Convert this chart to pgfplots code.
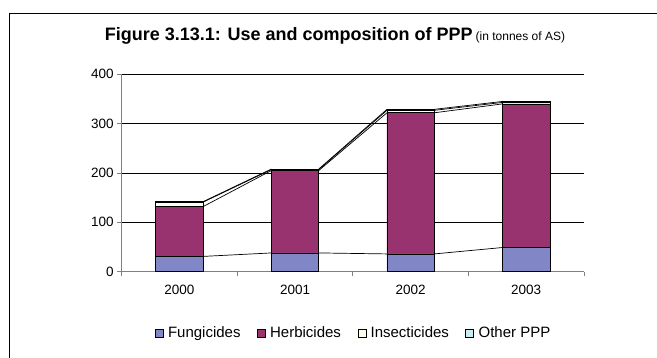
\documentclass[border=0pt]{standalone}
\usepackage{fontspec}
\setmainfont{Liberation Sans}
\usepackage{pgfplots}
\pgfplotsset{compat=1.18}
\definecolor{fung}{RGB}{128,134,198}
\definecolor{herb}{RGB}{153,51,112}
\definecolor{insect}{RGB}{255,255,236}
\definecolor{other}{RGB}{204,236,244}
\definecolor{axgray}{RGB}{128,128,128}
\begin{document}
\begin{tikzpicture}[x=1pt,y=1pt]
\useasboundingbox (0,0) rectangle (657,358);
\draw[black,line width=0.8pt] (9,0) -- (9,345) -- (657,345);
\node[anchor=base] at (335,317.3) {{\fontsize{18}{20}\selectfont\bfseries Figure 3.13.1: Use and composition of PPP}\hspace{3pt}{\fontsize{12}{14}\selectfont (in tonnes of AS)}};
\begin{axis}[
  at={(121.7pt,86.3pt)}, anchor=south west,
  scale only axis, width=462.3pt, height=197.4pt,
  ybar stacked, bar width=0.41,
  xmin=-0.5, xmax=3.5, ymin=0, ymax=400,
  xtick={-0.5,0.5,1.5,2.5,3.5}, x tick label as interval,
  xticklabels={2000,2001,2002,2003},
  ytick={0,100,200,300,400},
  ymajorgrids, grid style={black, line width=0.6pt},
  axis x line*=bottom, axis y line*=left,
  axis line style={axgray, line width=1pt, -},
  tick style={axgray, line width=0.8pt},
  tick align=outside,
  major tick length=4.5pt,
  /pgf/number format/assume math mode=true,
  /pgf/number format/1000 sep={},
  tick label style={font=\fontsize{13.5}{15}\selectfont},
  xticklabel style={yshift=-5pt},
  legend style={at={(0.5,-0.31)}, anchor=center, draw=none, fill=none,
    legend columns=-1, font=\fontsize{15}{17}\selectfont,
    nodes={inner sep=0.5pt},
    /tikz/every odd column/.append style={column sep=4pt},
    /tikz/every even column/.append style={column sep=16pt}},
  legend image code/.code={\draw[#1,draw=black,line width=0.6pt] (0pt,-4pt) rectangle (8pt,4pt);},
  every axis plot/.append style={draw=black, line width=0.7pt},
]
\addplot[fill=fung] coordinates {(0,31) (1,38) (2,36) (3,49)};
\addplot[fill=herb] coordinates {(0,101) (1,167) (2,286) (3,291)};
\addplot[fill=insect] coordinates {(0,9) (1,2) (2,5) (3,3)};
\addplot[fill=other] coordinates {(0,1) (1,1) (2,2) (3,2)};
\legend{Fungicides,Herbicides,Insecticides,Other PPP}
\end{axis}
\begin{axis}[
  at={(121.7pt,86.3pt)}, anchor=south west,
  scale only axis, width=462.3pt, height=197.4pt,
  xmin=-0.5, xmax=3.5, ymin=0, ymax=400,
  hide axis, unbounded coords=jump,
]
\addplot[black, line width=0.7pt, no markers] coordinates {(0.205,31) (0.795,38) (nan,nan) (1.205,38) (1.795,36) (nan,nan) (2.205,36) (2.795,49)};
\addplot[black, line width=0.7pt, no markers] coordinates {(0.205,132) (0.795,205) (nan,nan) (1.205,205) (1.795,322) (nan,nan) (2.205,322) (2.795,340)};
\addplot[black, line width=0.7pt, no markers] coordinates {(0.205,141) (0.795,207) (nan,nan) (1.205,207) (1.795,327) (nan,nan) (2.205,327) (2.795,343)};
\addplot[black, line width=0.7pt, no markers] coordinates {(0.205,142) (0.795,208) (nan,nan) (1.205,208) (1.795,329) (nan,nan) (2.205,329) (2.795,345)};
\end{axis}
\end{tikzpicture}
\end{document}
